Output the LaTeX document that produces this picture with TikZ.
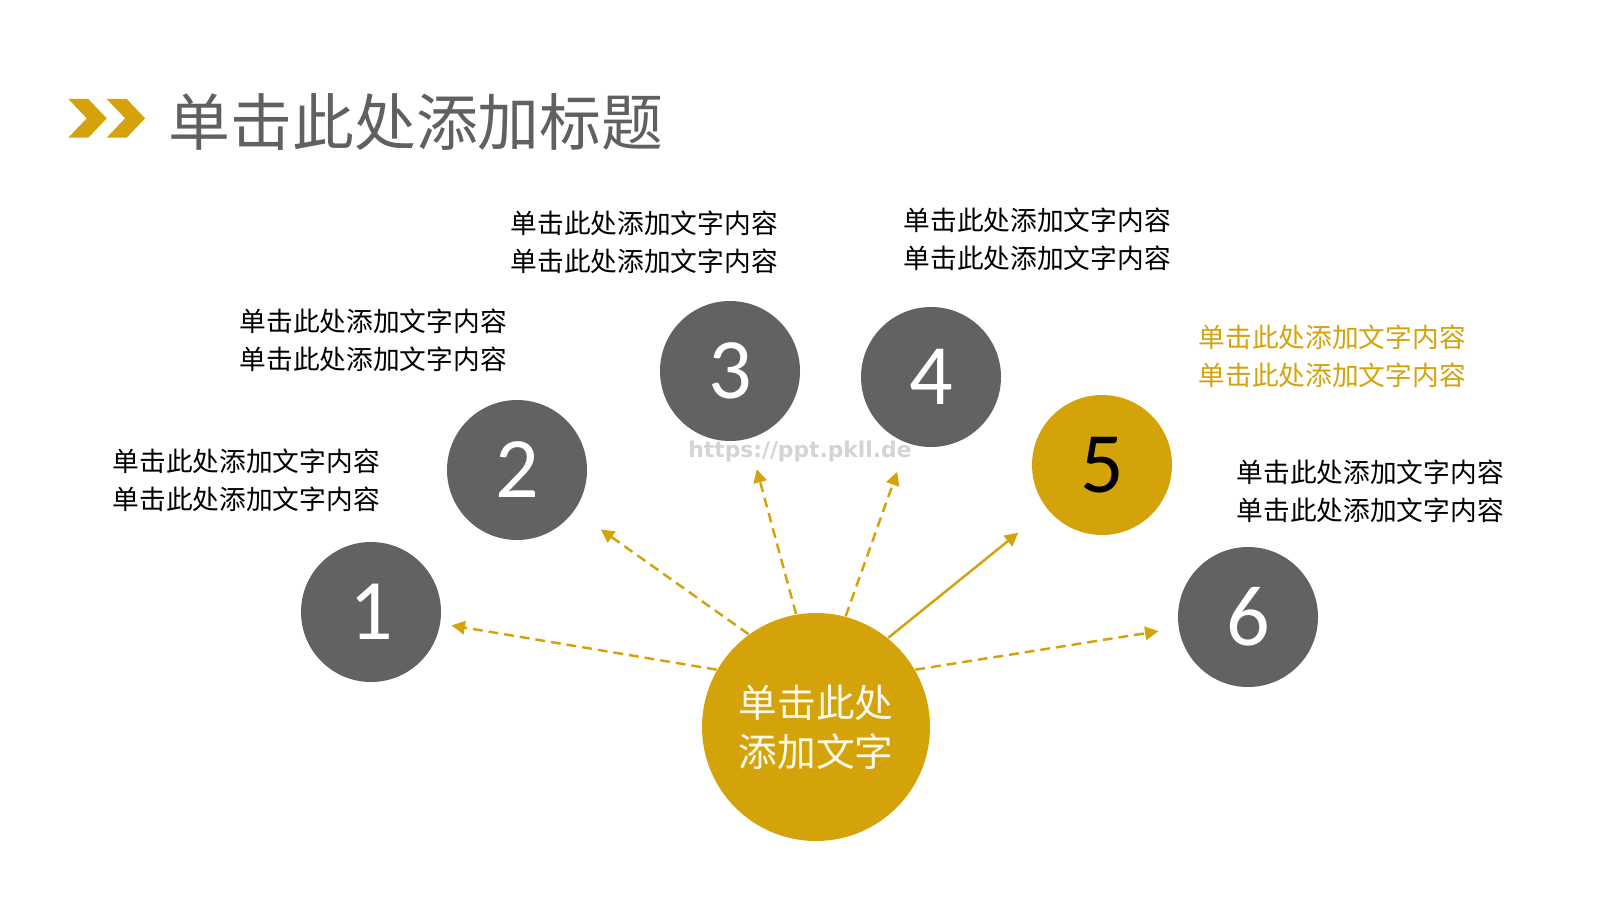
\documentclass[tikz,border=0pt]{standalone}
\usepackage{fontspec}
\setmainfont{Carlito}
\newfontfamily\cjk{Noto Sans CJK SC}
\newfontfamily\wmfont{DejaVu Sans}
\usetikzlibrary{arrows.meta}
\definecolor{gold}{RGB}{212,163,10}
\definecolor{disk}{RGB}{99,97,98}
\definecolor{titlegray}{RGB}{96,96,96}
\definecolor{cream}{RGB}{255,250,236}
\definecolor{wm}{RGB}{212,212,212}

\begin{document}
\begin{tikzpicture}[
  num/.style={circle, fill=disk, minimum size=1.4cm, inner sep=0pt, text=white, font=\fontsize{24.5}{24.5}\selectfont},
  txt/.style={anchor=west, align=left, inner sep=0pt, font=\cjk\fontsize{7.6}{10.8}\selectfont},
  link/.style={draw=gold, line width=0.7pt, -{Triangle[length=3.8pt,width=3.8pt]}},
  dlink/.style={link, dash pattern=on 2.8pt off 1.7pt}]
  \useasboundingbox (0,0) rectangle (16,9);
  % title
  \foreach \dx in {0,0.384} {
    \fill[gold] (0.683+\dx,8.01) -- ++(0.2,0) -- (1.067+\dx,7.817) -- (0.883+\dx,7.623) -- ++(-0.2,0) -- (0.867+\dx,7.817) -- cycle;
  }
  \node[anchor=west, inner sep=0pt, text=titlegray, font=\cjk\fontsize{17.6}{17.6}\selectfont] (title) at (1.68,7.78) {单击此处添加标题};

  % circles
  \node[circle, fill=gold, minimum size=2.28cm, inner sep=0pt, text=cream, align=center, font=\cjk\fontsize{11}{13.9}\selectfont] (cen) at (8.16,1.73) {单击此处\\添加文字};
  \node[num] (n1) at (3.71,2.88) {1};
  \node[num] (n2) at (5.17,4.30) {2};
  \node[num] (n3) at (7.30,5.29) {3};
  \node[num] (n4) at (9.31,5.23) {4};
  \node[num, fill=gold, text=black] (n5) at (11.02,4.35) {5};
  \node[num] (n6) at (12.48,2.83) {6};
  \node[text=wm, font=\wmfont\bfseries\fontsize{6.2}{6.2}\selectfont] (mark) at (8.00,4.49) {https://ppt.pkll.de};

  % arrows
  \draw[dlink, shorten >=0.11cm] (cen.150.6) -- (n1);
  \draw[dlink, shorten >=0.32cm] (cen.126.9) -- (n2);
  \draw[dlink, shorten >=0.31cm] (cen.100.6) -- (n3);
  \draw[dlink, shorten >=0.30cm] (cen.75.5) -- (n4);
  \draw[link, shorten >=0.37cm] (cen.51.7) -- (n5);
  \draw[dlink, shorten >=0.20cm] (cen.30.8) -- (n6);

  % texts
  \node[txt] (t1) at (1.12,4.20) {单击此处添加文字内容\\单击此处添加文字内容};
  \node[txt] (t2) at (2.39,5.60) {单击此处添加文字内容\\单击此处添加文字内容};
  \node[txt] (t3) at (5.10,6.58) {单击此处添加文字内容\\单击此处添加文字内容};
  \node[txt] (t4) at (9.03,6.61) {单击此处添加文字内容\\单击此处添加文字内容};
  \node[txt, text=gold] (t5) at (11.98,5.44) {单击此处添加文字内容\\单击此处添加文字内容};
  \node[txt] (t6) at (12.36,4.09) {单击此处添加文字内容\\单击此处添加文字内容};
\end{tikzpicture}
\end{document}
